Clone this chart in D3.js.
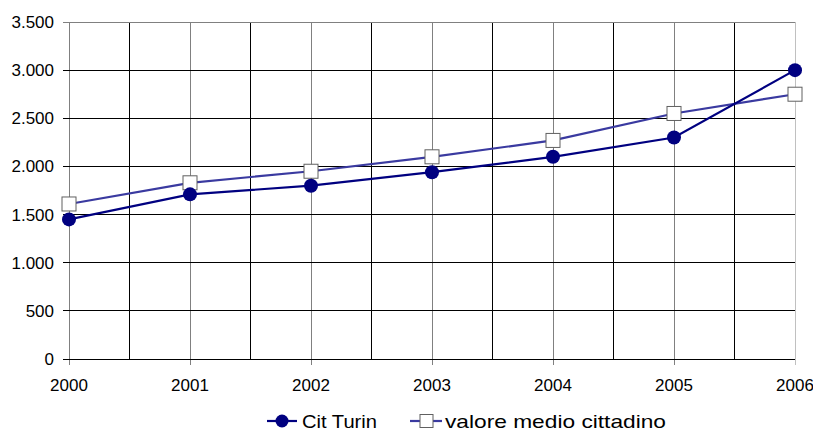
<!DOCTYPE html>
<html>
<head>
<meta charset="utf-8">
<script src="https://cdn.jsdelivr.net/npm/d3@7"></script>
<style>
  body { margin: 0; background: #fff; }
  svg { font-family: "Liberation Sans", Arial, sans-serif; }
</style>
</head>
<body>
<div id="chart"></div>
<script>
const years = [2000, 2001, 2002, 2003, 2004, 2005, 2006];
const citTurin = [1450, 1710, 1800, 1940, 2100, 2300, 3000];
const valoreMedio = [1610, 1830, 1950, 2100, 2270, 2550, 2750];
const yTicks = [0, 500, 1000, 1500, 2000, 2500, 3000, 3500];

const W = 813, H = 432;
const margin = { top: 22, right: 18, bottom: 73, left: 69 };
const width = W - margin.left - margin.right;
const height = H - margin.top - margin.bottom;

const svg = d3.select("#chart").append("svg")
    .attr("width", W)
    .attr("height", H);
const g = svg.append("g")
    .attr("transform", `translate(${margin.left},${margin.top})`);

const x = d3.scaleLinear().domain([2000, 2006]).range([0, width]);
const y = d3.scaleLinear().domain([0, 3500]).range([height, 0]);

const fmt = d3.formatLocale({ decimal: ",", thousands: ".", grouping: [3], currency: ["", "€"] }).format(",d");

// half-year gridlines (black)
const halfYears = d3.range(2000.5, 2006, 1);
g.selectAll(".vgrid-half")
    .data(halfYears)
    .enter().append("line")
    .attr("x1", d => x(d)).attr("x2", d => x(d))
    .attr("y1", 0).attr("y2", height)
    .attr("stroke", "#000").attr("stroke-width", 1)
    .attr("shape-rendering", "crispEdges");

// year gridlines (gray)
g.selectAll(".vgrid")
    .data(years)
    .enter().append("line")
    .attr("x1", d => x(d)).attr("x2", d => x(d))
    .attr("y1", 0).attr("y2", height + 6)
    .attr("stroke", d => d === 2006 ? "#c0c0c0" : "#808080").attr("stroke-width", 1)
    .attr("shape-rendering", "crispEdges");

// horizontal gridlines
g.selectAll(".hgrid")
    .data(yTicks)
    .enter().append("line")
    .attr("x1", -6).attr("x2", width)
    .attr("y1", d => y(d)).attr("y2", d => y(d))
    .attr("stroke", d => d === 3500 ? "#808080" : "#000").attr("stroke-width", 1)
    .attr("shape-rendering", "crispEdges");

// y labels
g.selectAll(".ylab")
    .data(yTicks)
    .enter().append("text")
    .attr("x", -15)
    .attr("y", d => y(d))
    .attr("dy", "0.35em")
    .attr("text-anchor", "end")
    .style("font-size", "17px")
    .style("fill", "#000")
    .text(d => fmt(d));

// x labels
g.selectAll(".xlab")
    .data(years)
    .enter().append("text")
    .attr("x", d => x(d))
    .attr("y", height + 32)
    .attr("text-anchor", "middle")
    .style("font-size", "17px")
    .style("fill", "#000")
    .text(d => d);

const line = d3.line()
    .x((d, i) => x(years[i]))
    .y(d => y(d));

// valore medio cittadino
g.append("path")
    .datum(valoreMedio)
    .attr("d", line)
    .attr("fill", "none")
    .attr("stroke", "#3a3aa0")
    .attr("stroke-width", 2.2);

// Cit Turin
g.append("path")
    .datum(citTurin)
    .attr("d", line)
    .attr("fill", "none")
    .attr("stroke", "#000080")
    .attr("stroke-width", 2.2);

g.selectAll(".sq")
    .data(valoreMedio)
    .enter().append("rect")
    .attr("x", (d, i) => x(years[i]) - 7)
    .attr("y", d => y(d) - 7)
    .attr("width", 14).attr("height", 14)
    .attr("fill", "#fff")
    .attr("stroke", "#606060")
    .attr("stroke-width", 1);

g.selectAll(".dot")
    .data(citTurin)
    .enter().append("circle")
    .attr("cx", (d, i) => x(years[i]))
    .attr("cy", d => y(d))
    .attr("r", 7)
    .attr("fill", "#000080");

// legend
const legend = svg.append("g").attr("transform", "translate(0,421)");
legend.append("line")
    .attr("x1", 267).attr("x2", 297).attr("y1", 0).attr("y2", 0)
    .attr("stroke", "#000080").attr("stroke-width", 2.2);
legend.append("circle")
    .attr("cx", 282).attr("cy", 0).attr("r", 6.5)
    .attr("fill", "#000080");
legend.append("text")
    .attr("x", 302).attr("y", 0).attr("dy", "0.35em")
    .attr("textLength", 75).attr("lengthAdjust", "spacingAndGlyphs")
    .style("font-size", "19px")
    .text("Cit Turin");

legend.append("line")
    .attr("x1", 410).attr("x2", 442).attr("y1", 0).attr("y2", 0)
    .attr("stroke", "#3a3aa0").attr("stroke-width", 2.2);
legend.append("rect")
    .attr("x", 420).attr("y", -6.5).attr("width", 13).attr("height", 13)
    .attr("fill", "#fff").attr("stroke", "#606060");
legend.append("text")
    .attr("x", 445).attr("y", 0).attr("dy", "0.35em")
    .attr("textLength", 221).attr("lengthAdjust", "spacingAndGlyphs")
    .style("font-size", "19px")
    .text("valore medio cittadino");
</script>
</body>
</html>
